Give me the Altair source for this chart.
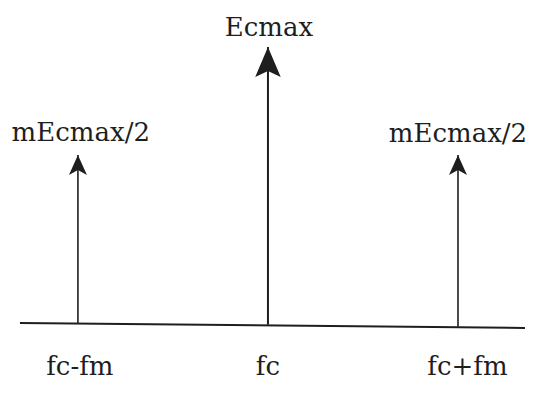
import altair as alt
import pandas as pd

# spectral lines: position (in units of fm around fc) and relative amplitude
freqs = [-1.0, 0.0, 1.0]
freq_labels = ["fc-fm", "fc", "fc+fm"]
amps = [0.61, 1.0, 0.61]
amp_labels = ["mEcmax/2", "Ecmax", "mEcmax/2"]

# label placement (data units)
top_label_x = [-0.985, 0.005, 1.0]
top_label_y = [0.69, 1.069, 0.685]
bottom_label_x = [-0.99, 0.0, 1.05]
bottom_label_y = [-0.155, -0.155, -0.155]

# baseline ends
base_x = [-1.305, 1.3526]
base_y = [0.004, -0.014]

INK = "#1e1e1e"
FONT = "DejaVu Serif"

xs = alt.Scale(domain=[-1.368, 1.3737], nice=False, zero=False)
ys = alt.Scale(domain=[-0.2527, 1.1408], nice=False, zero=False)

lines = pd.DataFrame({"f": freqs, "a": amps, "y0": [0.0, -0.003, -0.01],
                      "w": [1.6, 2.0, 1.6], "big": [False, True, False]})
base = pd.DataFrame({"x": [base_x[0]], "x2": [base_x[1]], "y": [base_y[0]], "y2": [base_y[1]]})
tops = pd.DataFrame({"x": top_label_x, "y": top_label_y, "t": amp_labels})
bots = pd.DataFrame({"x": bottom_label_x, "y": bottom_label_y, "t": freq_labels})

X = lambda f: alt.X(f, type="quantitative", scale=xs, axis=None)
Y = lambda f: alt.Y(f, type="quantitative", scale=ys, axis=None)

baseline = alt.Chart(base).mark_rule(color=INK, strokeWidth=2).encode(
    x=X("x"), x2="x2", y=Y("y"), y2="y2")

stems = alt.Chart(lines).mark_rule(color=INK).encode(
    x=X("f"), y=Y("y0"), y2="a",
    strokeWidth=alt.StrokeWidth("w:Q", scale=None, legend=None))

center_head = alt.Chart(lines[lines["big"]]).mark_point(
    shape="M0,-1 L0.85,1 L0,0.6 L-0.85,1 Z", size=900, filled=True,
    color=INK, opacity=1, yOffset=15).encode(x=X("f"), y=Y("a"))

side_heads = alt.Chart(lines[~lines["big"]]).mark_point(
    shape="M0,-1 L0.9,1 L0,0.5 L-0.9,1 Z", size=400, filled=True,
    color=INK, opacity=1, yOffset=10).encode(x=X("f"), y=Y("a"))

top_text = alt.Chart(tops).mark_text(
    font=FONT, fontSize=26, color=INK, baseline="middle", align="center").encode(
    x=X("x"), y=Y("y"), text="t:N")

bot_text = alt.Chart(bots).mark_text(
    font=FONT, fontSize=26, color=INK, baseline="middle", align="center").encode(
    x=X("x"), y=Y("y"), text="t:N")

chart = alt.layer(baseline, stems, center_head, side_heads, top_text, bot_text).properties(
    width=521, height=386,
    autosize=alt.AutoSizeParams(type="fit", contains="padding"),
    padding=0, background="white"
).configure_view(stroke=None)

chart.save("out.html", embed_options={"renderer": "svg", "actions": False})
